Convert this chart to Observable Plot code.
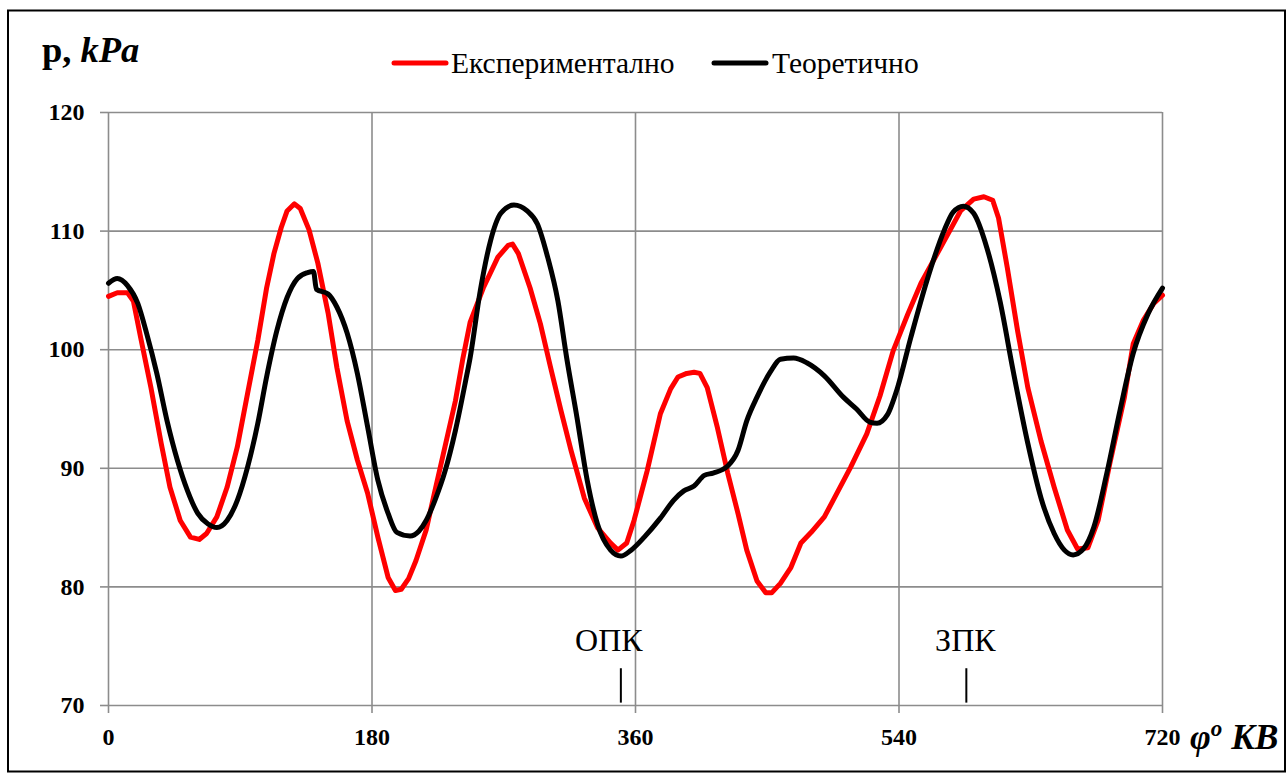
<!DOCTYPE html>
<html>
<head>
<meta charset="utf-8">
<script src="https://cdn.jsdelivr.net/npm/d3@7"></script>
<script src="https://cdn.jsdelivr.net/npm/@observablehq/plot@0.6"></script>
<style>
  html, body { margin: 0; padding: 0; background: white; }
  #chart { width: 1287px; height: 773px; }
  #chart text { font-family: 'Liberation Serif', 'Times New Roman', serif; }
</style>
</head>
<body>
<div id="chart"></div>
<script>
// ---- data ----
const seriesNames = ["Експериментално", "Теоретично"];
const seriesColors = ["#ff0000", "#000000"];

const expAngle = [0,6,13,17,22,29,36,42,49,56,62,67,74,81,88,95,102,108,113,118,122,127,131,137,143,150,156,163,170,177,184,191,196,200,205,210,217,223,230,237,242,247,256,266,273,276,280,288,295,302,309,316,325,334,343,348,354,359,368,377,384,389,395,400,404,409,416,423,430,436,443,449,453,459,466,473,480,489,495,507,518,527,536,546,555,571,582,591,598,604,608,614,621,628,637,646,655,662,669,676,684,694,700,707,714,720];
const expP = [104.5,104.8,104.8,104.1,101.0,96.8,92.1,88.4,85.6,84.2,84.0,84.5,85.9,88.4,91.8,96.3,100.8,105.2,108.1,110.3,111.7,112.3,111.9,110.1,107.3,103.1,98.5,94.0,90.7,87.9,84.2,80.8,79.7,79.8,80.7,82.2,84.8,88.1,91.9,95.7,99.2,102.3,105.2,107.8,108.8,108.9,108.1,105.2,102.2,98.5,94.9,91.5,87.5,85.0,83.7,83.1,83.7,85.6,89.8,94.6,96.7,97.7,98.0,98.1,98.0,96.8,93.4,89.6,86.2,83.1,80.5,79.5,79.5,80.3,81.6,83.7,84.6,85.9,87.3,90.1,92.9,96.1,99.9,103.0,105.6,109.2,111.7,112.7,112.9,112.6,111.1,106.9,101.6,96.8,92.3,88.4,84.8,83.2,83.3,85.6,90.4,96.0,100.5,102.5,103.9,104.6];

const theoAngle = [0,6,13,20,26,33,40,47,54,61,68,74,81,88,95,102,108,115,122,129,136,140,142,150,156,163,170,177,184,191,197,206,212,217,223,230,237,244,247,254,261,268,277,286,293,300,307,313,320,327,334,343,350,357,366,377,386,393,400,407,413,423,430,436,443,452,459,468,477,489,502,511,520,525,532,539,548,559,571,577,584,591,600,609,618,628,637,646,653,659,666,673,682,691,700,710,720];
const theoP = [105.6,106.0,105.4,103.9,101.4,98.0,94.0,90.7,88.1,86.2,85.3,85.0,85.6,87.3,90.1,93.8,97.7,101.6,104.4,106.0,106.5,106.6,105.1,104.7,103.6,101.4,98.0,93.5,89.0,86.2,84.6,84.3,84.7,85.6,87.3,89.8,93.2,97.4,99.3,105.0,109.2,111.5,112.2,111.7,110.6,107.8,104.1,99.3,94.3,89.0,85.3,83.1,82.6,83.1,84.2,85.8,87.3,88.1,88.5,89.4,89.6,90.2,91.5,94.0,96.0,98.1,99.2,99.3,98.9,97.8,96.0,95.0,93.9,93.8,94.5,96.8,101.0,105.8,110.1,111.6,112.1,111.5,108.6,104.1,98.2,92.1,87.5,84.5,83.1,82.7,83.2,85.0,89.6,94.9,99.7,103.0,105.2];

const xTicks = [0, 180, 360, 540, 720];
const yTicks = [70, 80, 90, 100, 110, 120];
const markerAngles = [350, 586];
const markerLabels = ["ОПК", "ЗПК"];

// ---- tables ----
const exp = expAngle.map((a, i) => ({angle: a, p: expP[i]}));
const theo = theoAngle.map((a, i) => ({angle: a, p: theoP[i]}));
const markers = markerAngles.map((a, i) => ({angle: a, label: markerLabels[i]}));

const FONT = "'Liberation Serif', 'Times New Roman', serif";

const chart = Plot.plot({
  width: 1287,
  height: 773,
  marginLeft: 108,
  marginRight: 125,
  marginTop: 112,
  marginBottom: 68,
  style: {fontFamily: FONT, background: "white", overflow: "visible"},
  x: {domain: [0, 720]},
  y: {domain: [70, 120]},
  marks: [
    Plot.gridX(xTicks, {stroke: "#8c8c8c", strokeOpacity: 1, strokeWidth: 1.6}),
    Plot.gridY(yTicks, {stroke: "#8c8c8c", strokeOpacity: 1, strokeWidth: 1.6}),
    Plot.axisX(xTicks, {tickSize: 8, tickPadding: 14, stroke: "#8c8c8c", strokeWidth: 1.6, fill: "black",
      fontSize: 24, fontWeight: "bold", label: null, tickFormat: d => String(d)}),
    Plot.axisY(yTicks, {tickSize: 8, tickPadding: 16, stroke: "#8c8c8c", strokeWidth: 1.6, fill: "black",
      fontSize: 24, fontWeight: "bold", label: null, tickFormat: d => String(d)}),
    Plot.ruleX(markers, {x: "angle", y1: 70.2, y2: 73.1, stroke: "black", strokeWidth: 2}),
    Plot.text(markers.slice(0, 1), {x: "angle", y: 73.1, text: "label", dy: -28, dx: -12, fontSize: 32, fill: "black"}),
    Plot.text(markers.slice(1), {x: "angle", y: 73.1, text: "label", dy: -28, dx: -1, fontSize: 32, fill: "black"}),
    Plot.line(exp, {x: "angle", y: "p", stroke: seriesColors[0], strokeWidth: 5, curve: "linear", strokeLinejoin: "round"}),
    Plot.line(theo, {x: "angle", y: "p", stroke: seriesColors[1], strokeWidth: 5, curve: "monotone-x", strokeLinejoin: "round"})
  ]
});

const svg = d3.select(chart);

// outer border
svg.append("rect").attr("x", 8).attr("y", 10.5).attr("width", 1277).attr("height", 761)
  .attr("fill", "none").attr("stroke", "black").attr("stroke-width", 2);

// y axis title
const yt = svg.append("text").attr("x", 42).attr("y", 62).attr("text-anchor", "start")
  .style("font-size", "36.5px").style("font-weight", "bold").attr("fill", "black");
yt.append("tspan").text("p, ");
yt.append("tspan").style("font-style", "italic").text("kPa");

// x axis title
const xt = svg.append("text").attr("x", 1190).attr("y", 749).attr("text-anchor", "start")
  .style("font-size", "35.5px").style("font-weight", "bold").style("font-style", "italic").attr("fill", "black");
xt.append("tspan").text("φ");
xt.append("tspan").style("font-size", "23px").attr("dy", -13).text("o");
xt.append("tspan").attr("dy", 13).text(" KB");

// legend
const legendX = [[394, 446, 451], [714, 766, 772]];
seriesNames.forEach((name, i) => {
  const [x1, x2, tx] = legendX[i];
  svg.append("line").attr("x1", x1).attr("x2", x2).attr("y1", 63).attr("y2", 63)
    .attr("stroke", seriesColors[i]).attr("stroke-width", 5).attr("stroke-linecap", "round");
  svg.append("text").attr("x", tx).attr("y", 73).attr("text-anchor", "start").style("font-size", "29.5px")
    .attr("fill", "black").text(name);
});

document.getElementById("chart").appendChild(chart);
</script>
</body>
</html>
